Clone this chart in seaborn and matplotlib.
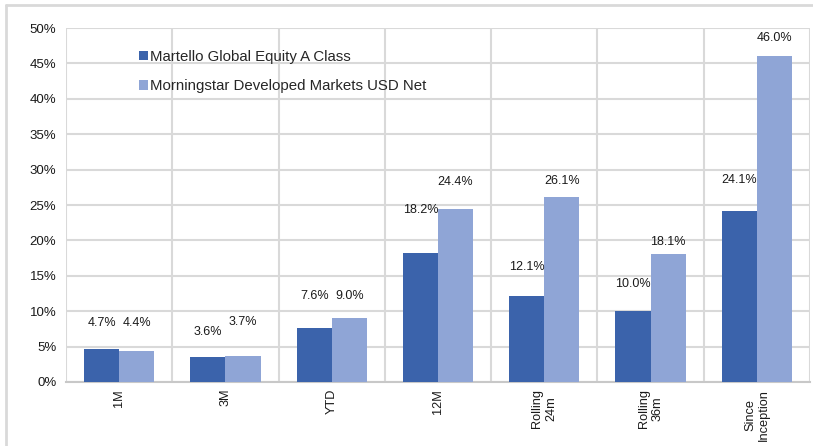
import numpy as np
import pandas as pd
import matplotlib
matplotlib.use("Agg")
import matplotlib.pyplot as plt
from matplotlib.lines import Line2D
from matplotlib.ticker import FuncFormatter, MultipleLocator, FixedLocator
import seaborn as sns

# Data
categories = ['1M', '3M', 'YTD', '12M', 'Rolling\n24m', 'Rolling\n36m', 'Since\nInception']
fund_name = 'Martello Global Equity A Class'
bench_name = 'Morningstar Developed Markets USD Net'
fund_returns = [4.7, 3.6, 7.6, 18.2, 12.1, 10.0, 24.1]
bench_returns = [4.4, 3.7, 9.0, 24.4, 26.1, 18.1, 46.0]
# where the value labels sit (in % units), as placed in the reference
fund_label_y = [8.3, 7.1, 12.1, 24.3, 16.2, 13.8, 28.5]
bench_label_y = [8.3, 8.5, 12.1, 28.2, 28.4, 19.8, 48.6]

df = pd.DataFrame({
    'category': categories * 2,
    'series': [fund_name] * len(categories) + [bench_name] * len(categories),
    'value': fund_returns + bench_returns,
})

sns.set_style('white')
plt.rcParams['font.family'] = ['Liberation Sans', 'DejaVu Sans']

colors = {fund_name: '#3B63AB', bench_name: '#8FA5D6'}
grid_col = '#d9d9d9'

fig = plt.figure(figsize=(8.13, 4.46), dpi=100)
ax = fig.add_axes([0.0812, 0.1435, 0.9151, 0.7937])

sns.barplot(data=df, x='category', y='value', hue='series', palette=colors,
            width=0.66, saturation=1, order=categories, linewidth=0,
            hue_order=[fund_name, bench_name], ax=ax, zorder=3)

# value labels
for container, labels_y in zip(ax.containers, [fund_label_y, bench_label_y]):
    for bar, ly in zip(container, labels_y):
        x = bar.get_x() + bar.get_width() / 2
        ax.text(x, ly, f'{bar.get_height():.1f}%', ha='center', va='center',
                fontsize=9, color='#1a1a1a', zorder=4)

ax.set_xlim(-0.5, len(categories) - 0.5)
ax.set_ylim(0, 50)
ax.yaxis.set_major_locator(MultipleLocator(5))
ax.yaxis.set_major_formatter(FuncFormatter(lambda v, p: f'{v:.0f}%'))
ax.xaxis.set_minor_locator(FixedLocator(np.arange(-0.5, len(categories), 1.0)))

ax.grid(axis='y', which='major', color=grid_col, linewidth=1.5, zorder=0)
ax.grid(axis='x', which='minor', color=grid_col, linewidth=1.5, zorder=0)
ax.grid(axis='x', which='major', visible=False)

for side in ['top', 'right', 'left']:
    ax.spines[side].set_visible(False)
ax.spines['bottom'].set_color('#c8c8c8')
ax.spines['bottom'].set_linewidth(1.5)

ax.tick_params(axis='x', which='major', length=0, pad=5, labelsize=9.2,
               labelrotation=90, colors='#1a1a1a')
ax.tick_params(axis='x', which='minor', length=4, width=1.2, color='#c8c8c8')
ax.tick_params(axis='y', length=0, pad=7, labelsize=9.5, colors='#1a1a1a')
for lab in ax.get_xticklabels():
    lab.set_multialignment('center')

ax.set_xlabel('')
ax.set_ylabel('')

ax.legend(loc='upper left', bbox_to_anchor=(0.088, 0.96), frameon=False,
          fontsize=10.8, handlelength=0.6, handleheight=0.6, handletextpad=0.15,
          labelspacing=1.05, borderpad=0)

# outer chart frame (left and top edges visible in the crop)
fig.add_artist(Line2D([0.0075, 0.0075], [0.0, 0.989], transform=fig.transFigure,
                      color=grid_col, linewidth=2))
fig.add_artist(Line2D([0.0075, 1.0], [0.989, 0.989], transform=fig.transFigure,
                      color=grid_col, linewidth=2))

fig.savefig('out.png', dpi=100)
